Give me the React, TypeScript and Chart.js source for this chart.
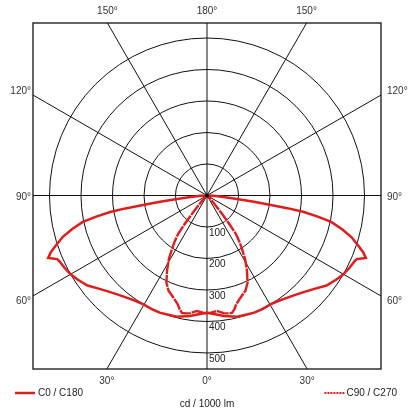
import { useEffect, useRef } from "react";
import { Chart, registerables } from "chart.js";

Chart.register(...registerables);

// Wide batwing curve (C0 / C180): gamma angle (deg, 0 = nadir) and intensity (cd/1000 lm)
const wideAngles = [0, 4, 8, 14, 18, 22, 26, 30, 34, 37, 41, 45, 49, 53, 57, 60, 63, 66, 67, 68.5, 70, 71.5, 74, 76, 78, 79.2, 80.3, 81, 81.6, 82.5, 83.3, 85, 87, 90];
const wideValues = [372, 378, 386, 397, 398, 401, 401, 400, 404, 410, 420, 434, 452, 475, 490, 500, 507, 513, 517, 542, 528, 508, 476, 442, 403, 358, 312, 262, 205, 150, 96, 52, 20, 0];

// Narrow curve (C90 / C270)
const narrowAngles = [0, 2, 5, 8, 10, 12, 13.5, 15, 18, 22, 25, 28, 31, 33, 35, 37, 38, 39, 40, 42, 45, 50, 90];
const narrowValues = [374, 372, 368, 377, 380, 381, 372, 358, 342, 326, 305, 270, 235, 205, 180, 152, 115, 82, 55, 25, 8, 2, 0];

const ringValues = [100, 200, 300, 400, 500];
const ringLabels = ["100", "200", "300", "400", "500"];
const spokeAngles = [0, 30, 60, 90, 120, 150, 180, 210, 240, 270, 300, 330];
const topLabels = ["150°", "180°", "150°"];
const topLabelAngles = [210, 180, 150];
const bottomLabels = ["30°", "0°", "30°"];
const bottomLabelAngles = [330, 0, 30];
const sideLabels = ["120°", "90°", "60°"];
const sideLabelAngles = [120, 90, 60];
const legendLabels = ["C0 / C180", "C90 / C270"];
const unitLabel = "cd / 1000 lm";

const RED = "rgb(226,28,28)";
const FONT = '10px "Liberation Sans", Arial, sans-serif';

function toPoints(angles: number[], values: number[]) {
  const pts: { x: number; y: number }[] = [];
  for (let i = angles.length - 1; i >= 0; i--) {
    const g = (angles[i] * Math.PI) / 180;
    pts.push({ x: -values[i] * Math.sin(g), y: -values[i] * Math.cos(g) });
  }
  for (let i = 1; i < angles.length; i++) {
    const g = (angles[i] * Math.PI) / 180;
    pts.push({ x: values[i] * Math.sin(g), y: -values[i] * Math.cos(g) });
  }
  return pts;
}

const polarGrid = {
  id: "polarGrid",
  beforeDatasetsDraw(chart: any) {
    const { ctx, chartArea: a, scales } = chart;
    const xs = scales.x;
    const ys = scales.y;
    const cx = xs.getPixelForValue(0);
    const cy = ys.getPixelForValue(0);
    ctx.save();
    ctx.beginPath();
    ctx.rect(a.left, a.top, a.right - a.left, a.bottom - a.top);
    ctx.clip();
    ctx.strokeStyle = "#111";
    ctx.lineWidth = 1;
    ringValues.forEach((v) => {
      const r = xs.getPixelForValue(v) - cx;
      ctx.beginPath();
      ctx.arc(cx, cy, r, 0, Math.PI * 2);
      ctx.stroke();
    });
    spokeAngles.forEach((deg) => {
      const g = (deg * Math.PI) / 180;
      const R = 3000;
      const px = xs.getPixelForValue(R * Math.sin(g));
      const py = ys.getPixelForValue(-R * Math.cos(g));
      ctx.beginPath();
      ctx.moveTo(cx, cy);
      ctx.lineTo(px, py);
      ctx.stroke();
    });
    ctx.restore();
    ctx.save();
    ctx.strokeStyle = "#111";
    ctx.lineWidth = 1.3;
    ctx.strokeRect(a.left, a.top, a.right - a.left, a.bottom - a.top);
    ctx.restore();
  },
  afterDatasetsDraw(chart: any) {
    const { ctx, chartArea: a, scales } = chart;
    const xs = scales.x;
    const ys = scales.y;
    const cx = xs.getPixelForValue(0);
    const cy = ys.getPixelForValue(0);
    ctx.save();
    // centre dot
    ctx.fillStyle = "#000";
    ctx.beginPath();
    ctx.arc(cx, cy, 2, 0, Math.PI * 2);
    ctx.fill();

    ctx.font = FONT;
    ctx.textBaseline = "middle";
    // ring labels
    ctx.fillStyle = "#222";
    ctx.textAlign = "left";
    ringValues.forEach((v, i) => {
      const r = xs.getPixelForValue(v) - cx;
      ctx.fillText(ringLabels[i], cx + 2, cy + r + 6);
    });

    // angle labels
    ctx.fillStyle = "#333";
    ctx.textAlign = "center";
    const topH = cy - a.top;
    const botH = a.bottom - cy;
    topLabelAngles.forEach((deg, i) => {
      const g = (deg * Math.PI) / 180;
      const x = cx + topH * Math.tan(Math.PI - g) * -1;
      ctx.fillText(topLabels[i], x, a.top - 12);
    });
    bottomLabelAngles.forEach((deg, i) => {
      const g = (deg * Math.PI) / 180;
      const x = cx + botH * Math.tan(g);
      ctx.fillText(bottomLabels[i], x, a.bottom + 12);
    });
    const halfW = cx - a.left;
    const sideOffsets = [-3.5, 1.5, 5.5];
    sideLabelAngles.forEach((deg, i) => {
      const g = (deg * Math.PI) / 180;
      const y = cy + halfW / Math.tan(g) + sideOffsets[i];
      ctx.textAlign = "right";
      ctx.fillText(sideLabels[i], a.left - 2, y);
      ctx.textAlign = "left";
      ctx.fillText(sideLabels[i], a.right + 6, y);
    });

    // legend
    const ly = a.bottom + 24;
    ctx.fillStyle = "#222";
    ctx.strokeStyle = RED;
    ctx.lineWidth = 2.5;
    ctx.beginPath();
    ctx.moveTo(15, ly);
    ctx.lineTo(35, ly);
    ctx.stroke();
    ctx.textAlign = "left";
    ctx.fillText(legendLabels[0], 38, ly);

    const w2 = ctx.measureText(legendLabels[1]).width;
    const tx = 397 - w2;
    ctx.setLineDash([2, 1]);
    ctx.lineWidth = 2;
    ctx.beginPath();
    ctx.moveTo(tx - 22, ly);
    ctx.lineTo(tx - 2, ly);
    ctx.stroke();
    ctx.setLineDash([]);
    ctx.fillText(legendLabels[1], tx, ly);

    ctx.textAlign = "center";
    ctx.fillText(unitLabel, cx, a.bottom + 35);
    ctx.restore();
  },
};

export default function App() {
  const ref = useRef<HTMLCanvasElement | null>(null);
  useEffect(() => {
    if (!ref.current) return;
    const chart = new Chart(ref.current, {
      type: "scatter",
      data: {
        datasets: [
          {
            label: legendLabels[0],
            data: toPoints(wideAngles, wideValues),
            showLine: true,
            borderColor: RED,
            borderWidth: 2.5,
            pointRadius: 0,
            fill: false,
            tension: 0,
          },
          {
            label: legendLabels[1],
            data: toPoints(narrowAngles, narrowValues),
            showLine: true,
            borderColor: RED,
            borderWidth: 2.4,
            borderDash: [12, 1],
            pointRadius: 0,
            fill: false,
            tension: 0,
          },
        ],
      },
      options: {
        animation: false,
        responsive: false,
        devicePixelRatio: 1,
        layout: { padding: { left: 33, right: 33, top: 23, bottom: 48 } },
        scales: {
          x: { type: "linear", min: -552.4, max: 552.4, display: false },
          y: { type: "linear", min: -550.8, max: 547.6, display: false },
        },
        plugins: { legend: { display: false }, tooltip: { enabled: false } },
        events: [],
      },
      plugins: [polarGrid],
    } as any);
    return () => chart.destroy();
  }, []);
  return (
    <div style={{ position: "fixed", left: 0, top: 0, width: 414, height: 417, background: "#fff" }}>
      <canvas ref={ref} width={414} height={417} style={{ display: "block", width: 414, height: 417 }} />
    </div>
  );
}
